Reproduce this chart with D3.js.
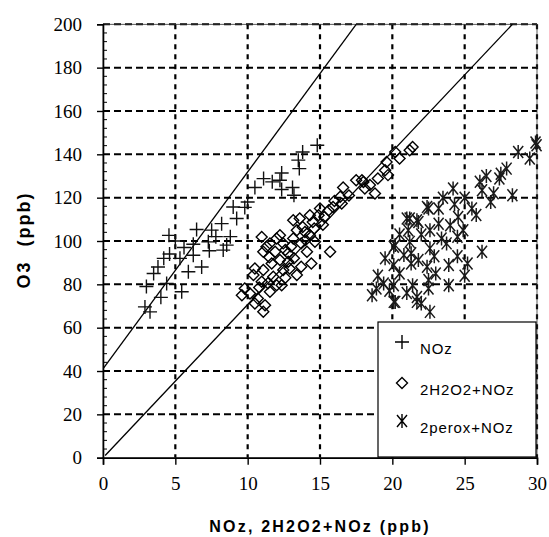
<!DOCTYPE html>
<html>
<head>
<meta charset="utf-8">
<script src="https://cdn.jsdelivr.net/npm/d3@7"></script>
<style>
body { margin: 0; background: #fff; }
.tick text { font-family: "Liberation Serif", "DejaVu Serif", "Times New Roman", serif !important; }
</style>
</head>
<body>
<div id="chart"></div>
<script>
// axis ticks
var xTicks = [0, 5, 10, 15, 20, 25, 30];
var yTicks = [0, 20, 40, 60, 80, 100, 120, 140, 160, 180, 200];

// NOz  (+)
var noz = [[2.9,69.6],[3.25,67.3],[3.0,79],[3.5,85],[4.4,80.4],[4.56,102.6],[4.6,94],[5.32,92],[5.44,76.6],
  [5.9,85.8],[6.24,93.4],[6.24,98.5],[6.47,105.3],[6.82,88],[7.28,99.6],[7.35,95.5],[7.51,105],[8.2,108],
  [8.31,95.8],[8.55,98.1],[9.0,115.7],[9.24,110.4],[9.8,115.5],[10.5,124.7],[11.1,128.8],[11.7,127.3],
  [12.23,128],[12.35,131.4],[12.35,123.8],[13.1,124.7],[13.2,121.1],[13.5,137.3],[13.57,133.4],[13.8,141.1],
  [14.81,144.2],[3.8,88],[4.2,92],[5.0,100],[5.6,97],[7.8,102],[8.8,102],[10.0,118],[4.0,74]];

// 2H2O2+NOz  (diamonds)
var h2o2 = [[21.4,143.4],[21.2,141.9],[20.2,141.1],[20.5,138.1],[19.6,136.5],[19.5,132.7],[19.7,130.4],
  [19.0,128.8],[18.8,121.9],[18.45,125.8],[17.9,128],[17.5,128],[18.1,124.2],[16.6,124.7],[16.4,120.4],
  [16.5,117.3],[15.9,115.7],[15.6,114.2],[15.0,115],[15.3,111.1],[14.9,111.9],[14.5,108.8],[14.6,105.8],
  [15.7,95],[13.6,110.4],[13.96,104.2],[14.3,102.7],[13.4,105],[13.15,101.2],[13.7,98.9],[14.65,99.6],
  [14.1,95],[14.4,89.6],[10.97,101.9],[11.3,97.3],[11.08,95],[12.0,101.2],[12.46,98.9],[12.8,94.3],
  [11.9,95],[12.23,91.2],[11.66,89.6],[11.08,86.6],[10.5,87.3],[10.4,84.3],[10.97,81.2],[11.77,83.5],
  [12.46,86.6],[12.9,87.3],[13.4,84.3],[13.7,88.1],[12.0,79.6],[12.35,79.6],[9.8,78.1],[10.16,75.8],
  [10.7,73.5],[11.2,70.4],[11.08,67.3],[10.5,71.2],[9.6,75],[11.54,76.6],[12.8,90.4],[12.6,95.8],
  [14.3,111.9],[13.8,106.5],[13.15,109.6],[12.23,102.7],[11.54,98.9],[11.5,92.5],[13.2,92],[12.6,83],
  [10.8,78.5],[11.4,80.5],[13.0,97.5],[14.0,100.5],[17.0,121],[15.2,107.5],[16.0,118.5],[18.0,127.2]];

// 2perox+NOz  (stars)
var perox = [[29.97,144.2],[29.9,145.5],[28.7,141.1],[29.5,138.1],[27.9,133.4],[27.4,128.8],[28.3,121.1],
  [26.2,123.4],[26.05,127.3],[24.2,124.2],[25.5,115],[24.55,111.1],[23.2,115],[22.5,115],[21.2,110.4],
  [21.8,108.8],[24.0,107.3],[22.6,105],[21.1,105],[24.9,105],[23.4,101.2],[20.2,98.1],[22.6,96.6],
  [23.75,98.9],[26.2,95],[21.3,94.3],[23.9,88.9],[25.2,89.6],[22.4,88.1],[21.3,89.6],[20.1,88.9],
  [21.4,79.6],[22.5,78.1],[23.9,79.6],[20.1,71.9],[21.7,71.9],[22.6,67.3],[19.4,80.4],[22.4,115.7],
  [21.0,110.4],[21.7,109.6],[20.1,97.3],[21.2,99.6],[20.8,93.5],[21.8,91.2],[18.6,75],[18.9,78.1],
  [20.1,79.6],[21.7,74.2],[20.2,71.9],[22.0,71.2],[20.5,85],[22.9,93],[23,85],[22,103],[23.2,108],
  [24.5,102],[19,84],[19.8,77],[22.5,82],[24.5,93],[25.8,112],[26.8,118],[27,122],[27.5,131],[26.5,130],
  [25,120],[24.3,117],[23.5,120],[20.5,103],[19.5,92],[21,76],[25,84]];

// the two reference lines (end points)
var lineUpper = [[0.05,41.5],[17.5,200]];
var lineLower = [[0.15,1.0],[28.3,200]];

var legendNames = ["NOz", "2H2O2+NOz", "2perox+NOz"];

var width = 549,
    height = 537,
    margin = {left: 103, top: 24.3, right: 12, bottom: 79.3};
var w = width - margin.left - margin.right,
    h = height - margin.top - margin.bottom;

var svg = d3.select("#chart")
    .append("svg")
    .attr("width", width)
    .attr("height", height)
    .style("font-family", "'Liberation Sans', Arial, sans-serif");

var g = svg.append("g")
    .attr("transform", "translate(" + margin.left + "," + margin.top + ")");

var x = d3.scaleLinear().domain([0, 30]).range([0, w]);
var y = d3.scaleLinear().domain([0, 200]).range([h, 0]);

/* gridlines */
g.append("g").selectAll("line")
    .data(yTicks.filter(function(d) { return d > 0; }))
    .enter().append("line")
    .attr("x1", 0).attr("x2", w)
    .attr("y1", function(d) { return y(d); })
    .attr("y2", function(d) { return y(d); })
    .attr("stroke", "#000")
    .attr("stroke-width", 2)
    .attr("stroke-dasharray", "7,4");

g.append("g").selectAll("line")
    .data(xTicks.filter(function(d) { return d > 0; }))
    .enter().append("line")
    .attr("x1", function(d) { return x(d); })
    .attr("x2", function(d) { return x(d); })
    .attr("y1", 0).attr("y2", h)
    .attr("stroke", "#000")
    .attr("stroke-width", 2.2)
    .attr("stroke-dasharray", "5,5");

// thin frame on top / right
g.append("rect")
    .attr("width", w).attr("height", h)
    .attr("fill", "none")
    .attr("stroke", "#333")
    .attr("stroke-width", 0.8);

/* axes */
var yAxis = g.append("g")
    .call(d3.axisLeft(y).tickValues(yTicks).tickSize(6).tickPadding(15).tickFormat(d3.format("d")));
var xAxis = g.append("g")
    .attr("transform", "translate(0," + h + ")")
    .call(d3.axisBottom(x).tickValues(xTicks).tickSize(7).tickPadding(12).tickFormat(d3.format("d")));

[xAxis, yAxis].forEach(function(a) {
  a.attr("font-family", "'Liberation Serif', 'DejaVu Serif', serif").attr("font-size", 19);
  a.select(".domain").attr("stroke", "#000").attr("stroke-width", 1.6);
  a.selectAll(".tick line").attr("stroke", "#000").attr("stroke-width", 1.4);
  a.selectAll(".tick text")
      .attr("fill", "#000")
      .style("font-size", "19px");
});

// minor ticks on the y axis, pointing inward
g.append("g").selectAll("line")
    .data(d3.range(0, 201, 4).filter(function(d) { return d % 20 !== 0; }))
    .enter().append("line")
    .attr("x1", 0).attr("x2", 4)
    .attr("y1", function(d) { return y(d); })
    .attr("y2", function(d) { return y(d); })
    .attr("stroke", "#000")
    .attr("stroke-width", 1);

/* reference lines */
var line = d3.line()
    .x(function(d) { return x(d[0]); })
    .y(function(d) { return y(d[1]); });

[lineUpper, lineLower].forEach(function(l) {
  g.append("path")
      .datum(l)
      .attr("d", line)
      .attr("fill", "none")
      .attr("stroke", "#000")
      .attr("stroke-width", 1.3);
});

/* markers */
var plusPath = "M-7,0H7M0,-7V7";
var diamondPath = "M0,-5.5L5.5,0L0,5.5L-5.5,0Z";
var starPath = "M-5,-6L5,6M-5,6L5,-6M0,-7V7";

function drawSeries(data, path, sw, col) {
  g.append("g").selectAll("path")
      .data(data)
      .enter().append("path")
      .attr("transform", function(d) { return "translate(" + x(d[0]) + "," + y(d[1]) + ")"; })
      .attr("d", path)
      .attr("fill", "none")
      .attr("stroke", col)
      .attr("stroke-width", sw);
}

drawSeries(noz, plusPath, 1.4, "#111");
drawSeries(perox, starPath, 1.5, "#1a1a1a");
drawSeries(h2o2, diamondPath, 1.4, "#000");

/* legend */
var lx = 378, ly = 322, lw = 158, lh = 135;
var legend = svg.append("g");
legend.append("rect")
    .attr("x", lx).attr("y", ly)
    .attr("width", lw).attr("height", lh)
    .attr("fill", "#fff")
    .attr("stroke", "#000")
    .attr("stroke-width", 1.2);

var legendPaths = [plusPath, diamondPath, starPath];
var legendBase = [354, 395, 433];

legend.selectAll("path")
    .data(legendPaths)
    .enter().append("path")
    .attr("transform", function(d, i) { return "translate(402," + (legendBase[i] - 12) + ")"; })
    .attr("d", function(d) { return d; })
    .attr("fill", "none")
    .attr("stroke", "#000")
    .attr("stroke-width", 1.4);

legend.selectAll("text")
    .data(legendNames)
    .enter().append("text")
    .attr("x", 420)
    .attr("y", function(d, i) { return legendBase[i]; })
    .style("font-size", "15px")
    .style("letter-spacing", "0.9px")
    .attr("fill", "#000")
    .text(function(d) { return d; });

/* axis titles */
svg.append("text")
    .attr("x", 320)
    .attr("y", 532)
    .attr("text-anchor", "middle")
    .style("font-size", "16px")
    .style("font-weight", "bold")
    .style("letter-spacing", "2.2px")
    .attr("fill", "#000")
    .text("NOz, 2H2O2+NOz (ppb)");

svg.append("text")
    .attr("transform", "translate(30,240) rotate(-90)")
    .attr("text-anchor", "middle")
    .style("font-size", "18px")
    .style("font-weight", "bold")
    .style("letter-spacing", "2px")
    .style("white-space", "pre")
    .attr("fill", "#000")
    .text("O3  (ppb)");
</script>
</body>
</html>
